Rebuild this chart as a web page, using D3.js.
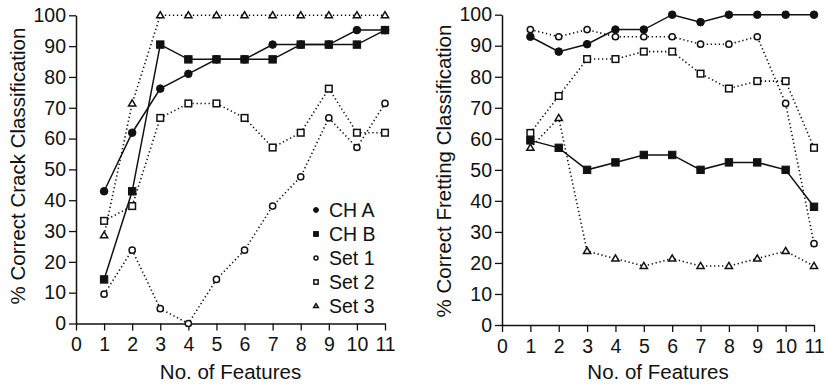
<!DOCTYPE html>
<html>
<head>
<meta charset="utf-8">
<script src="https://cdn.jsdelivr.net/npm/d3@7"></script>
<style>
  body { margin: 0; background: #fff; }
  svg text { font-family: "Liberation Sans", Arial, sans-serif; fill: #111; }
</style>
</head>
<body>
<div id="chart"></div>
<script>
const features = [1, 2, 3, 4, 5, 6, 7, 8, 9, 10, 11];
const xTicks = [0, 1, 2, 3, 4, 5, 6, 7, 8, 9, 10, 11];
const yTicks = [0, 10, 20, 30, 40, 50, 60, 70, 80, 90, 100];
const seriesNames = ["CH A", "CH B", "Set 1", "Set 2", "Set 3"];

// crack classification (left panel)
const crackChA = [42.9, 61.9, 76.2, 81.0, 85.7, 85.7, 90.5, 90.5, 90.5, 95.2, 95.2];
const crackChB = [14.3, 42.9, 90.5, 85.7, 85.7, 85.7, 85.7, 90.5, 90.5, 90.5, 95.2];
const crackSet1 = [9.5, 23.8, 4.8, 0, 14.3, 23.8, 38.1, 47.6, 66.7, 57.1, 71.4];
const crackSet2 = [33.3, 38.1, 66.7, 71.4, 71.4, 66.7, 57.1, 61.9, 76.2, 61.9, 61.9];
const crackSet3 = [28.6, 71.4, 100, 100, 100, 100, 100, 100, 100, 100, 100];

// fretting classification (right panel)
const fretChA = [92.9, 88.1, 90.5, 95.2, 95.2, 100, 97.6, 100, 100, 100, 100];
const fretChB = [59.5, 57.1, 50.0, 52.4, 54.8, 54.8, 50.0, 52.4, 52.4, 50.0, 38.1];
const fretSet1 = [95.2, 92.9, 95.2, 92.9, 92.9, 92.9, 90.5, 90.5, 92.9, 71.4, 26.2];
const fretSet2 = [61.9, 73.8, 85.7, 85.7, 88.1, 88.1, 81.0, 76.2, 78.6, 78.6, 57.1];
const fretSet3 = [57.1, 66.7, 23.8, 21.4, 19.0, 21.4, 19.0, 19.0, 21.4, 23.8, 19.0];

const width = 827, height = 389;
const svg = d3.select("#chart").append("svg")
  .attr("width", width)
  .attr("height", height);

// marker drawing per series
const styles = {
  "CH A":  { shape: "circle", filled: true,  dash: null,  size: 3.8 },
  "CH B":  { shape: "square", filled: true,  dash: null,  size: 3.7 },
  "Set 1": { shape: "circle", filled: false, dash: "1.3,2.7", size: 3.1 },
  "Set 2": { shape: "square", filled: false, dash: "1.3,2.7", size: 3.3 },
  "Set 3": { shape: "triangle", filled: false, dash: "1.3,2.7", size: 3.6 }
};

function drawMarker(g, name, cx, cy, scale) {
  const s = styles[name];
  const r = s.size * (scale || 1);
  const fill = s.filled ? "#111" : "#fff";
  const sw = s.filled ? 1 : 1.5;
  if (s.shape === "circle") {
    g.append("circle").attr("cx", cx).attr("cy", cy).attr("r", r)
      .attr("fill", fill).attr("stroke", "#111").attr("stroke-width", sw);
  } else if (s.shape === "square") {
    g.append("rect").attr("x", cx - r).attr("y", cy - r)
      .attr("width", 2 * r).attr("height", 2 * r)
      .attr("fill", fill).attr("stroke", "#111").attr("stroke-width", sw);
  } else {
    const h = r * 1.7;
    g.append("path")
      .attr("d", `M${cx},${cy - h * 0.6}L${cx + r},${cy + h * 0.4}L${cx - r},${cy + h * 0.4}Z`)
      .attr("fill", fill).attr("stroke", "#111").attr("stroke-width", sw)
      .attr("stroke-linejoin", "miter");
  }
}

function panel(opts) {
  const x = d3.scaleLinear().domain([0, 11]).range([opts.left, opts.right]);
  const y = d3.scaleLinear().domain([0, 100]).range([opts.bottom, opts.top]);
  const g = svg.append("g");

  const xAxis = g.append("g")
    .attr("transform", `translate(0,${opts.bottom})`)
    .call(d3.axisBottom(x).tickValues(xTicks).tickSize(7).tickSizeOuter(0).tickPadding(7));
  const yAxis = g.append("g")
    .attr("transform", `translate(${opts.left},0)`)
    .call(d3.axisLeft(y).tickValues(yTicks).tickSize(7).tickSizeOuter(0).tickPadding(3));
  [xAxis, yAxis].forEach(a => {
    a.selectAll("path").attr("stroke", "#111").attr("stroke-width", 1.5);
    a.selectAll("line").attr("stroke", "#111").attr("stroke-width", 1.3);
    a.selectAll("text").attr("font-size", 19.5).attr("fill", "#111")
      .style("font-family", "'Liberation Sans', Arial, sans-serif");
  });

  g.append("text")
    .attr("x", (opts.left + opts.right) / 2)
    .attr("y", 379)
    .attr("text-anchor", "middle")
    .attr("font-size", 20.5)
    .text("No. of Features");

  g.append("text")
    .attr("transform", `translate(${opts.titleX},${opts.titleY}) rotate(-90)`)
    .attr("text-anchor", "middle")
    .attr("font-size", 20.5)
    .text(opts.yTitle);

  const line = d3.line().x((d, i) => x(features[i])).y(d => y(d));

  // dotted series first, solid on top
  const order = ["Set 1", "Set 2", "Set 3", "CH A", "CH B"];
  order.forEach(name => {
    const vals = opts.data[name];
    g.append("path")
      .datum(vals)
      .attr("fill", "none")
      .attr("stroke", "#111")
      .attr("stroke-width", styles[name].dash ? 1.6 : 1.5)
      .attr("stroke-dasharray", styles[name].dash)
      .attr("d", line);
  });
  order.forEach(name => {
    opts.data[name].forEach((v, i) => drawMarker(g, name, x(features[i]), y(v)));
  });
  return { x, y, g };
}

panel({
  left: 76, right: 385, top: 15.3, bottom: 323.5, titleX: 25, titleY: 166,
  yTitle: "% Correct Crack Classification",
  data: { "CH A": crackChA, "CH B": crackChB, "Set 1": crackSet1, "Set 2": crackSet2, "Set 3": crackSet3 }
});

panel({
  left: 502, right: 814, top: 14.7, bottom: 325, titleX: 451, titleY: 171,
  yTitle: "% Correct Fretting Classification",
  data: { "CH A": fretChA, "CH B": fretChB, "Set 1": fretSet1, "Set 2": fretSet2, "Set 3": fretSet3 }
});

// legend inside left panel
const legend = svg.append("g").attr("transform", "translate(316,210)");
seriesNames.forEach((name, i) => {
  const row = legend.append("g").attr("transform", `translate(0,${i * 24})`);
  drawMarker(row, name, 0, 0, 0.65);
  row.append("text")
    .attr("x", 13)
    .attr("y", 7)
    .attr("font-size", 19.5)
    .text(name);
});
</script>
</body>
</html>
